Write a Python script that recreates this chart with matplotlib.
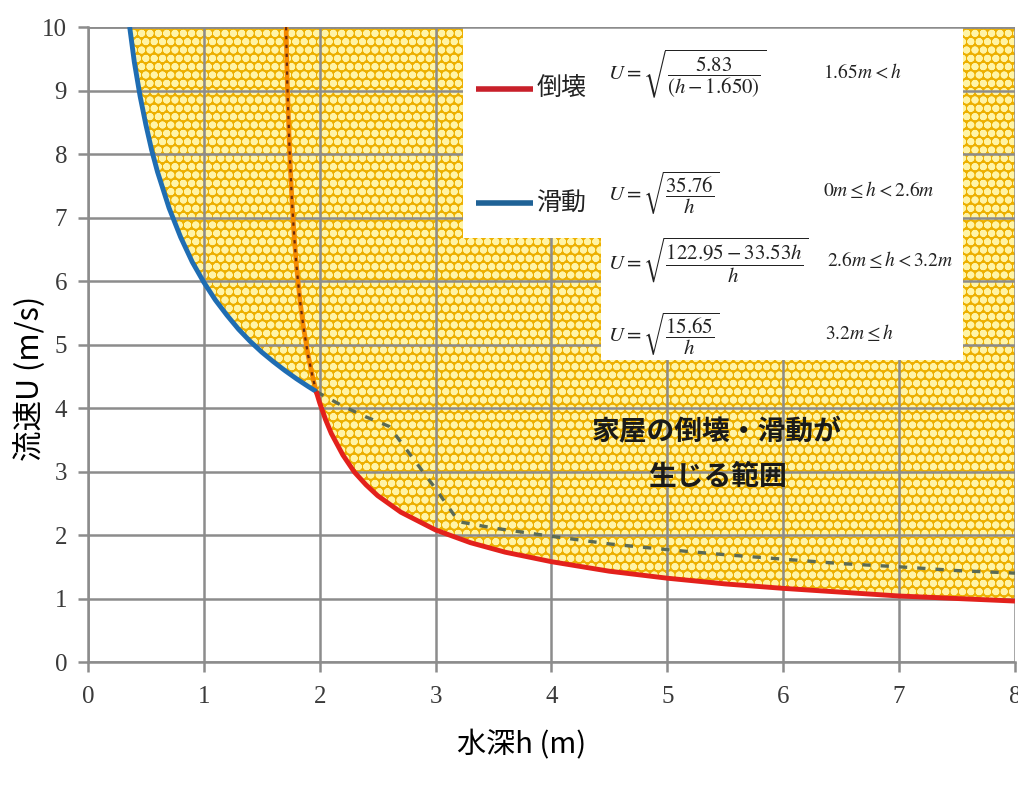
import matplotlib
matplotlib.use("Agg")
import matplotlib.pyplot as plt
from matplotlib.patches import Polygon

plt.rcParams['font.family'] = ['Noto Sans CJK JP', 'DejaVu Sans']
plt.rcParams['hatch.linewidth'] = 2.6

# ---- data ----
# 滑動 (sliding) boundary, solid blue part
slide_h = [0.36, 0.40, 0.45, 0.50, 0.55, 0.60, 0.70, 0.80, 0.90, 1.00,
           1.10, 1.20, 1.30, 1.40, 1.50, 1.60, 1.70, 1.80, 1.90, 1.97]
slide_u = [10.0, 9.45, 8.91, 8.46, 8.06, 7.72, 7.15, 6.69, 6.30, 5.98,
           5.70, 5.46, 5.24, 5.05, 4.88, 4.73, 4.59, 4.46, 4.34, 4.26]
# 倒壊 (collapse) boundary, solid red part
coll_h = [1.97, 2.00, 2.05, 2.10, 2.20, 2.30, 2.40, 2.50, 2.70, 3.00, 3.30,
          3.60, 4.00, 4.50, 5.00, 5.50, 6.00, 6.50, 7.00, 7.50, 8.00]
coll_u = [4.26, 4.08, 3.82, 3.60, 3.26, 2.99, 2.79, 2.62, 2.36, 2.08, 1.88,
          1.73, 1.58, 1.43, 1.32, 1.23, 1.16, 1.10, 1.04, 1.00, 0.96]
# collapse curve continuation (dashed orange)
coll_ext_h = [1.71, 1.72, 1.74, 1.76, 1.78, 1.80, 1.83, 1.86, 1.90, 1.94, 1.97]
coll_ext_u = [10.0, 9.13, 8.05, 7.28, 6.70, 6.23, 5.69, 5.27, 4.83, 4.48, 4.26]
# sliding curve continuation (dashed grey-green)
slide_ext_h = [1.97, 2.20, 2.40, 2.60, 2.80, 3.00, 3.20, 3.50, 4.00, 4.50,
               5.00, 5.50, 6.00, 6.50, 7.00, 7.50, 8.00]
slide_ext_u = [4.26, 4.03, 3.86, 3.71, 3.22, 2.73, 2.21, 2.11, 1.98, 1.86,
               1.77, 1.69, 1.62, 1.55, 1.50, 1.44, 1.40]

x_ticks = [0, 1, 2, 3, 4, 5, 6, 7, 8]
y_ticks = [0, 1, 2, 3, 4, 5, 6, 7, 8, 9, 10]

legend_labels = ['倒壊', '滑動']
formulas = [r'$U=\sqrt{\dfrac{5.83}{(h-1.650)}}$',
            r'$U=\sqrt{\dfrac{35.76}{h}}$',
            r'$U=\sqrt{\dfrac{122.95-33.53h}{h}}$',
            r'$U=\sqrt{\dfrac{15.65}{h}}$']
conditions = [r'$1.65m<h$', r'$0m\leq h<2.6m$',
              r'$2.6m\leq h<3.2m$', r'$3.2m\leq h$']
region_text = '家屋の倒壊・滑動が\n生じる範囲'

# ---- figure ----
fig = plt.figure(figsize=(10.18, 7.92), dpi=100)
ax = fig.add_axes([0.0864, 0.1641, 0.9106, 0.8018])
ax.set_xlim(0, 8)
ax.set_ylim(0, 10)

# hazard region
bound_h = slide_h + coll_h[1:]
bound_u = slide_u + coll_u[1:]
ax.fill_between(bound_h, bound_u, 10, facecolor='#EDB000',
                edgecolor='#FFF4A6', hatch='oo', linewidth=0, zorder=1)

# grid
ax.set_xticks(x_ticks)
ax.set_yticks(y_ticks)
ax.grid(True, color='#8c8c8c', linewidth=1.8, zorder=2)
ax.set_axisbelow(False)
for s in ['top', 'right']:
    ax.spines[s].set_visible(False)
for s in ['left', 'bottom']:
    ax.spines[s].set_color('#8c8c8c')
    ax.spines[s].set_linewidth(1.8)
    ax.spines[s].set_zorder(2)

# annotation box (white)
box = Polygon([(3.24, 10), (7.55, 10), (7.55, 4.76), (4.43, 4.76),
               (4.43, 6.68), (3.24, 6.68)], closed=True,
              facecolor='white', edgecolor='none', zorder=3)
ax.add_patch(box)
ax.axhline(10, color='#8c8c8c', linewidth=1.8, zorder=3.5)

# curves
ax.plot(coll_ext_h, coll_ext_u, color='#F58A00', linewidth=3.4, zorder=4)
ax.plot(coll_ext_h, coll_ext_u, color='#6a2a10', linewidth=1.6,
        linestyle=(0, (1.5, 2.5)), zorder=4.1)
ax.plot(slide_ext_h, slide_ext_u, color='#5a6a55', linewidth=2.4,
        linestyle=(0, (2.5, 3)), zorder=4)
ax.plot(slide_h, slide_u, color='#1F6DB3', linewidth=3.5, zorder=5,
        solid_capstyle='butt')
ax.plot(coll_h, coll_u, color='#E3211C', linewidth=3.5, zorder=5,
        solid_capstyle='butt')

# legend inside box
ax.plot([3.35, 3.84], [9.02, 9.02], color='#C8202A', linewidth=4, zorder=6,
        solid_capstyle='butt')
ax.plot([3.35, 3.84], [7.23, 7.23], color='#1F6296', linewidth=4, zorder=6,
        solid_capstyle='butt')
ax.text(3.87, 9.02, legend_labels[0], fontsize=18, va='center', ha='left',
        color='#222222', zorder=6)
ax.text(3.87, 7.23, legend_labels[1], fontsize=18, va='center', ha='left',
        color='#222222', zorder=6)

form_y = [9.26, 7.39, 6.33, 5.18]
cond_x = [6.34, 6.34, 6.38, 6.36]
cond_y = [9.29, 7.42, 6.33, 5.18]
for f, fy in zip(formulas, form_y):
    ax.text(4.49, fy, f, fontsize=15, va='center', ha='left',
            math_fontfamily='stix', color='#222222', zorder=6)
for c, cx, cy in zip(conditions, cond_x, cond_y):
    ax.text(cx, cy, c, fontsize=14, va='center', ha='left',
            math_fontfamily='stix', color='#222222', zorder=6)

ax.text(5.43, 3.27, region_text, fontsize=20, ha='center', va='center',
        fontweight='bold', linespacing=1.75, color='#1a1a1a', zorder=6)

# ticks
ax.tick_params(axis='both', colors='#8c8c8c', width=1.8, length=7,
               labelcolor='#3a3a3a', labelsize=18)
ax.tick_params(axis='x', pad=10)
ax.tick_params(axis='y', pad=8)
for lab in ax.get_xticklabels() + ax.get_yticklabels():
    lab.set_fontfamily('Liberation Serif')

fig.text(522 / 1018, 1 - 745 / 792, '水深h (m)', fontsize=21,
         ha='center', va='center')
fig.text(30 / 1018, 1 - 378 / 792, '流速U (m/s)', fontsize=22,
         ha='center', va='center', rotation=90)

fig.savefig('out.png', dpi=100)
